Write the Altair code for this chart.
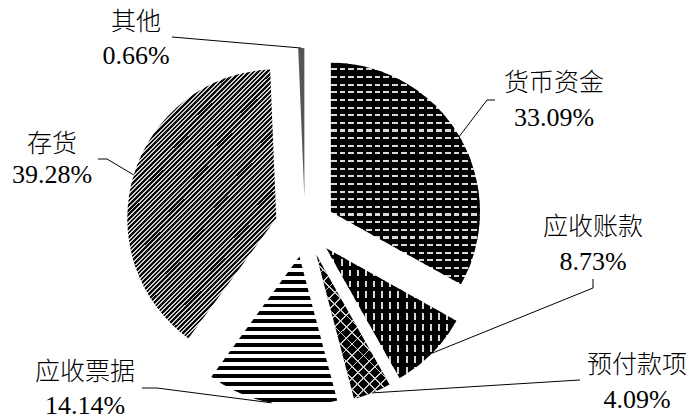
import altair as alt
import pandas as pd

# ---- data ----
categories = ["货币资金", "应收账款", "预付款项", "应收票据", "存货", "其他"]
shares = [33.09, 8.73, 4.09, 14.14, 39.28, 0.66]
pct_labels = ["33.09%", "8.73%", "4.09%", "14.14%", "39.28%", "0.66%"]

# ---- label layout (pixels) ----
label_x = [554, 593, 637, 85, 52, 136]
name_y = [83, 227, 365, 372, 144, 22]
pct_y = [118, 262, 400, 406, 175, 56]
corner_x = [487, 593, 580, 157, 107, 172]
corner_y = [100, 288, 380, 388, 159, 37]
tail_x = [495, 593, 580, 142, 98, 172]
tail_y = [100, 279, 380, 388, 159, 37]

# ---- pie geometry ----
CX, CY, EXPLODE, R = 305, 227, 30, 149
W, H = 694, 419

df = pd.DataFrame({
    "cat": categories, "share": shares, "pct": pct_labels,
    "order": list(range(len(categories))),
    "lx": label_x, "ny": name_y, "py2": pct_y,
    "kx": corner_x, "ky": corner_y, "tx": tail_x, "ty": tail_y,
})

TRANSPARENT = "rgba(0,0,0,0)"


def stripes(n, ca, cb, frac):
    stops = []
    for i in range(n):
        a = round(i / n, 5)
        b = round((i + frac) / n, 5)
        c = round((i + 1) / n, 5)
        stops += [{"offset": a, "color": ca}, {"offset": b, "color": ca},
                  {"offset": b, "color": cb}, {"offset": c, "color": cb}]
    return stops


def lin(stops, x1, y1, x2, y2):
    return {"gradient": "linear", "stops": stops,
            "x1": x1, "y1": y1, "x2": round(x2, 4), "y2": round(y2, 4)}


def diag(w, h, up=True):
    s = (w + h) / (w * w + h * h)
    a, b = w * s, h * s
    return (0, 0, a, b) if up else (0, 1, a, 1 - b)


patterns = {
    "货币资金": [lin(stripes(29, "#000", "#d8d8d8", 0.72), 0, 0, 0, 1),
             lin(stripes(17, TRANSPARENT, "#000", 0.65), 0, 0, 1, 0)],
    "应收账款": [lin(stripes(16, "#000", "#d8d8d8", 0.75), 0, 0, 1, 0),
             lin(stripes(12, TRANSPARENT, "#000", 0.62), 0, 0, 0, 1)],
    "预付款项": [lin(stripes(19, "#000", "#cccccc", 0.85), *diag(73, 144, True)),
             lin(stripes(19, TRANSPARENT, "#cccccc", 0.85), *diag(73, 144, False))],
    "应收票据": [lin(stripes(19, "#000", "#ffffff", 0.5), 0, 0, 0, 1)],
    "存货": [lin(stripes(92, "#0a0a0a", "#cfcfcf", 0.57), *diag(149, 270, True))],
    "其他": ["#555555"],
}

base = (
    alt.Chart(df)
    .transform_joinaggregate(total="sum(share)")
    .transform_window(cum="sum(share)", sort=[alt.SortField("order")])
    .transform_calculate(
        t0="2*PI*(datum.cum - datum.share)/datum.total",
        t1="2*PI*datum.cum/datum.total",
    )
    .transform_calculate(mid="(datum.t0 + datum.t1)/2")
    .transform_calculate(
        cx=f"{CX} + {EXPLODE}*sin(datum.mid)",
        cy=f"{CY} - {EXPLODE}*cos(datum.mid)",
        px=f"{CX} + {EXPLODE + R}*sin(datum.mid)",
        py=f"{CY} - {EXPLODE + R}*cos(datum.mid)",
    )
)

layers = []
for cat in categories:
    for fill in patterns[cat]:
        layers.append(
            base.transform_filter(alt.datum.cat == cat)
            .mark_arc(radius=R, fill=fill)
            .encode(
                theta=alt.Theta("t0:Q", scale=None, stack=False),
                theta2="t1:Q",
                x=alt.X("cx:Q", scale=None, stack=False),
                y=alt.Y("cy:Q", scale=None, stack=False),
            )
        )

lead1 = base.mark_rule(color="black", strokeWidth=1).encode(
    x=alt.X("px:Q", scale=None), y=alt.Y("py:Q", scale=None),
    x2="kx:Q", y2="ky:Q",
)
lead2 = base.mark_rule(color="black", strokeWidth=1).encode(
    x=alt.X("kx:Q", scale=None), y=alt.Y("ky:Q", scale=None),
    x2="tx:Q", y2="ty:Q",
)
names = base.mark_text(font="Noto Sans CJK SC", fontSize=25, fontWeight=300,
                       color="black", align="center", baseline="middle").encode(
    x=alt.X("lx:Q", scale=None), y=alt.Y("ny:Q", scale=None), text="cat:N",
)
pcts = base.mark_text(font="Liberation Serif", fontSize=26,
                      color="black", align="center", baseline="middle").encode(
    x=alt.X("lx:Q", scale=None), y=alt.Y("py2:Q", scale=None), text="pct:N",
)

chart = (
    alt.layer(*layers, lead1, lead2, names, pcts)
    .properties(width=W, height=H, padding=0, autosize="none", background="white")
    .configure_view(stroke=None)
)

chart.save("out.html", embed_options={"renderer": "svg", "actions": False})
